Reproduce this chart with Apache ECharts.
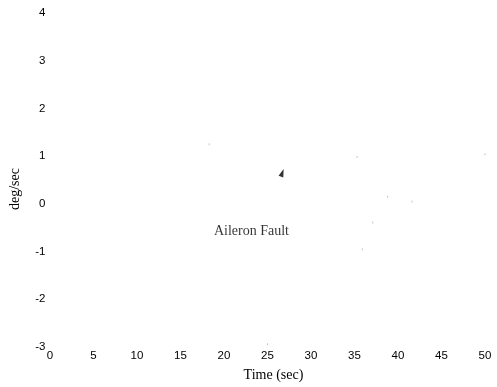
<!DOCTYPE html>
<html>
<head>
<meta charset="utf-8">
<script src="https://cdn.jsdelivr.net/npm/echarts@6/dist/echarts.min.js"></script>
<style>
  html, body { margin: 0; padding: 0; background: #fff; }
  #chart { width: 497px; height: 387px; }
</style>
</head>
<body>
<div id="chart"></div>
<script>
// Roll-rate response axes (time in seconds, rate in deg/sec)
const xTicks = [0, 5, 10, 15, 20, 25, 30, 35, 40, 45, 50];
const yTicks = [-3, -2, -1, 0, 1, 2, 3, 4];

// Faint residual trace samples [time, rate]
const traceX = [18.3, 35.3, 50.0, 38.8, 41.6, 37.1, 35.9, 25.0];
const traceY = [1.25, 0.98, 1.04, 0.15, 0.05, -0.39, -0.95, -2.94];

// Fault annotation: label position and arrow tip
const faultLabel = 'Aileron Fault';
const faultLabelAt = [23.15, -0.57];
const faultArrowAt = [26.7, 0.65];

const chart = echarts.init(document.getElementById('chart'));

chart.setOption({
  animation: false,
  backgroundColor: '#fff',
  grid: { left: 46.5, right: 12, top: 13, bottom: 40 },
  xAxis: {
    type: 'value',
    min: xTicks[0],
    max: xTicks[xTicks.length - 1],
    interval: 5,
    name: 'Time (sec)',
    nameLocation: 'middle',
    nameGap: 21,
    nameTextStyle: { fontFamily: 'Liberation Serif', fontSize: 14, color: '#000', padding: [0, 0, 0, 12] },
    axisLine: { show: false },
    axisTick: { show: false },
    splitLine: { show: false },
    axisLabel: { fontFamily: 'Liberation Sans', fontSize: 11.5, color: '#000', margin: 3 }
  },
  yAxis: {
    type: 'value',
    min: yTicks[0],
    max: yTicks[yTicks.length - 1],
    interval: 1,
    name: 'deg/sec',
    nameLocation: 'middle',
    nameGap: 28,
    nameTextStyle: { fontFamily: 'Liberation Serif', fontSize: 14, color: '#000', padding: [0, 18, 0, 0] },
    axisLine: { show: false },
    axisTick: { show: false },
    splitLine: { show: false },
    axisLabel: { fontFamily: 'Liberation Sans', fontSize: 11.5, color: '#000', margin: 4.5 }
  },
  series: [
    {
      type: 'scatter',
      symbol: 'rect',
      symbolSize: [1, 2],
      itemStyle: { color: '#b8b8b8' },
      data: traceX.map((x, i) => [x, traceY[i]]),
      silent: true
    },
    {
      type: 'scatter',
      symbol: 'triangle',
      symbolSize: [5, 8],
      symbolRotate: -20,
      itemStyle: { color: '#000' },
      data: [faultArrowAt],
      silent: true
    },
    {
      type: 'scatter',
      symbolSize: 0,
      data: [faultLabelAt],
      silent: true,
      label: {
        show: true,
        position: 'inside',
        formatter: faultLabel,
        fontFamily: 'Liberation Serif',
        fontSize: 14,
        color: '#000'
      }
    }
  ]
});
</script>
</body>
</html>
